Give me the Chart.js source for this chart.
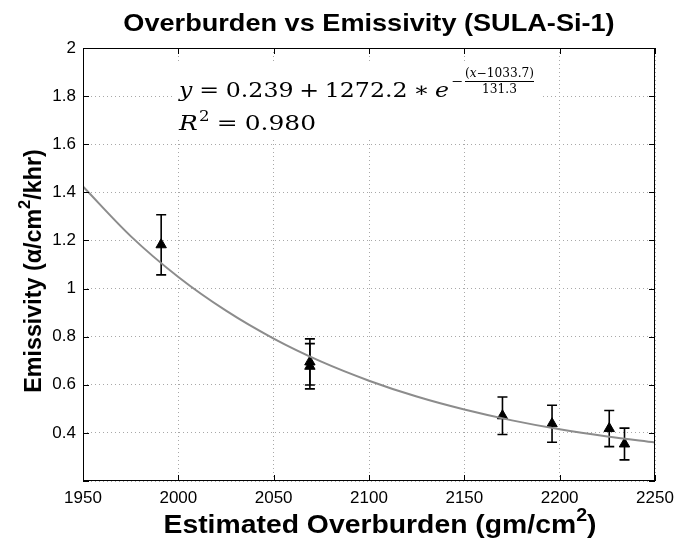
<!DOCTYPE html>
<html>
<head>
<meta charset="utf-8">
<script src="https://cdn.jsdelivr.net/npm/chart.js@4"></script>
<style>
  body { margin: 0; background: #fff; }
  #wrap { width: 682px; height: 550px; }
</style>
</head>
<body>
<div id="wrap"><canvas id="chart" width="682" height="550"></canvas></div>
<script>
// measured points (gm/cm^2 vs alpha/cm^2/khr)
var overburden = [1991, 2069, 2069, 2170, 2196, 2226, 2234];
var emissivity = [1.182, 0.695, 0.677, 0.471, 0.438, 0.418, 0.354];
var errBar = [0.125, 0.096, 0.094, 0.078, 0.077, 0.075, 0.066];

// fitted curve
var fitX = [1950, 1975, 2000, 2025, 2050, 2075, 2100, 2125, 2150, 2175, 2200, 2225, 2250];
var fitY = [1.424, 1.218, 1.048, 0.908, 0.792, 0.696, 0.617, 0.551, 0.497, 0.452, 0.415, 0.385, 0.360];

// axis ranges / ticks
var xTicks = [1950, 2000, 2050, 2100, 2150, 2200, 2250];
var yTicks = [0.2, 0.4, 0.6, 0.8, 1, 1.2, 1.4, 1.6, 1.8, 2];

var SANS = '"Liberation Sans", Arial, sans-serif';
var SERIF = '"DejaVu Serif", "Liberation Serif", serif';

function partsWidth(ctx, parts) {
  var w = 0;
  parts.forEach(function (p) { ctx.font = p.font; w += ctx.measureText(p.t).width + (p.gap || 0); });
  return w;
}

// draws text pieces one after another, stretched horizontally by sx
// returns the x where the text ends
function drawRich(ctx, parts, x, y, align, sx) {
  sx = sx || 1;
  var total = partsWidth(ctx, parts) * sx;
  var start = align == 'center' ? x - total / 2 : x;
  ctx.save();
  ctx.translate(start, y);
  ctx.scale(sx, 1);
  var cx = 0;
  parts.forEach(function (p) {
    ctx.font = p.font;
    ctx.fillText(p.t, cx, p.dy || 0);
    cx += ctx.measureText(p.t).width + (p.gap || 0);
  });
  ctx.restore();
  return start + total;
}

var errorBars = {
  id: 'errorBars',
  beforeDatasetsDraw: function (chart) {
    var ctx = chart.ctx, xs = chart.scales.x, ys = chart.scales.y;
    ctx.save();
    // white box behind the equation
    ctx.fillStyle = '#fff';
    ctx.fillRect(174, 62, 368, 75);
    ctx.strokeStyle = '#000';
    ctx.lineWidth = 1.6;
    for (var i = 0; i < overburden.length; i++) {
      var px = xs.getPixelForValue(overburden[i]);
      var top = ys.getPixelForValue(emissivity[i] + errBar[i]);
      var bot = ys.getPixelForValue(emissivity[i] - errBar[i]);
      ctx.beginPath();
      ctx.moveTo(px, top); ctx.lineTo(px, bot);
      ctx.moveTo(px - 5, top); ctx.lineTo(px + 5, top);
      ctx.moveTo(px - 5, bot); ctx.lineTo(px + 5, bot);
      ctx.stroke();
    }
    ctx.restore();
  }
};

var decor = {
  id: 'decor',
  afterDraw: function (chart) {
    var ctx = chart.ctx, a = chart.chartArea, xs = chart.scales.x, ys = chart.scales.y;
    ctx.save();
    // box + inward ticks
    ctx.strokeStyle = '#000';
    ctx.lineWidth = 1;
    ctx.strokeRect(a.left + 0.5, a.top + 0.5, a.right - a.left - 1, a.bottom - a.top - 1);
    ctx.beginPath();
    xTicks.forEach(function (v) {
      var px = Math.round(xs.getPixelForValue(v)) + 0.5;
      ctx.moveTo(px, a.bottom); ctx.lineTo(px, a.bottom - 6);
      ctx.moveTo(px, a.top); ctx.lineTo(px, a.top + 6);
    });
    yTicks.forEach(function (v) {
      var py = Math.round(ys.getPixelForValue(v)) + 0.5;
      ctx.moveTo(a.left, py); ctx.lineTo(a.left + 6, py);
      ctx.moveTo(a.right, py); ctx.lineTo(a.right - 6, py);
    });
    ctx.stroke();

    ctx.fillStyle = '#000';
    ctx.textBaseline = 'alphabetic';
    ctx.textAlign = 'left';
    // title
    drawRich(ctx, [{ t: 'Overburden vs Emissivity (SULA-Si-1)', font: 'bold 24px ' + SANS }], 369, 31, 'center', 1.13);

    // x axis title
    drawRich(ctx, [
      { t: 'Estimated Overburden (gm/cm', font: 'bold 26px ' + SANS },
      { t: '2', font: 'bold 18px ' + SANS, dy: -12 },
      { t: ')', font: 'bold 26px ' + SANS }
    ], 380, 533, 'center', 1.09);

    // y axis title
    ctx.save();
    ctx.translate(41, 271);
    ctx.rotate(-Math.PI / 2);
    drawRich(ctx, [
      { t: 'Emissivity (\u03b1/cm', font: 'bold 24px ' + SANS },
      { t: '2', font: 'bold 17px ' + SANS, dy: -11 },
      { t: '/khr)', font: 'bold 24px ' + SANS }
    ], 0, 0, 'center', 0.97);
    ctx.restore();

    // fit equation
    var big = '21px ' + SERIF, bigI = 'italic 21px ' + SERIF, sm = '12px ' + SERIF, smI = 'italic 12px ' + SERIF;
    var line1 = [
      { t: 'y', font: bigI, gap: 6 },
      { t: '=', font: big, gap: 6 },
      { t: '0.239', font: big, gap: 5 },
      { t: '+', font: big, gap: 5 },
      { t: '1272.2', font: big, gap: 5 },
      { t: '\u2217', font: big, gap: 5 },
      { t: 'e', font: bigI }
    ];
    var sx1 = 270 / partsWidth(ctx, line1);
    var ex = drawRich(ctx, line1, 179, 97, 'left', sx1);
    drawRich(ctx, [{ t: '\u2212', font: sm }], ex + 2, 85, 'left', 1.2);
    var numParts = [
      { t: '(', font: sm }, { t: 'x', font: smI }, { t: '\u22121033.7)', font: sm }
    ];
    var fx = ex + 16;
    var nsx = 69 / partsWidth(ctx, numParts);
    drawRich(ctx, numParts, fx, 77, 'left', nsx);
    ctx.fillRect(fx, 81, 69, 1);
    drawRich(ctx, [{ t: '131.3', font: sm }], fx + 34.5, 93, 'center', nsx);

    var line2 = [
      { t: 'R', font: bigI, gap: 1 },
      { t: '2', font: '14px ' + SERIF, dy: -9, gap: 6 },
      { t: '=', font: big, gap: 6 },
      { t: '0.980', font: big }
    ];
    drawRich(ctx, line2, 179, 130, 'left', 137 / partsWidth(ctx, line2));
    ctx.restore();
  }
};

var fitData = fitX.map(function (x, i) { return { x: x, y: fitY[i] }; });
var pointData = overburden.map(function (x, i) { return { x: x, y: emissivity[i] }; });

var gridOpts = { color: '#a8a8a8', lineWidth: 1, drawTicks: false };
var borderOpts = { display: false, dash: [1, 3] };

var chart = new Chart(document.getElementById('chart'), {
  type: 'scatter',
  data: {
    datasets: [{
      label: 'fit',
      data: fitData,
      showLine: true,
      borderColor: '#8c8c8c',
      borderWidth: 2,
      pointRadius: 0,
      tension: 0.4,
      cubicInterpolationMode: 'monotone'
    }, {
      label: 'measured',
      data: pointData,
      pointStyle: 'triangle',
      pointRadius: 6,
      backgroundColor: '#000',
      borderColor: '#000',
      borderWidth: 1
    }]
  },
  options: {
    responsive: false,
    animation: false,
    layout: { padding: { top: 48, right: 27, left: 0, bottom: 0 } },
    plugins: { legend: { display: false }, tooltip: { enabled: false } },
    scales: {
      x: {
        type: 'linear', min: 1950, max: 2250,
        afterBuildTicks: function (s) { s.ticks = xTicks.map(function (v) { return { value: v }; }); },
        afterFit: function (s) { s.height = 69; },
        grid: gridOpts,
        border: borderOpts,
        ticks: {
          color: '#000', font: { family: SANS, size: 17 }, padding: 7, maxRotation: 0,
          callback: function (v) { return String(v); }
        }
      },
      y: {
        type: 'linear', min: 0.2, max: 2,
        afterBuildTicks: function (s) { s.ticks = yTicks.map(function (v) { return { value: v }; }); },
        afterFit: function (s) { s.width = 83; },
        grid: gridOpts,
        border: borderOpts,
        ticks: {
          color: '#000', font: { family: SANS, size: 17 }, padding: 7,
          callback: function (v) { return v < 0.3 ? '' : String(Math.round(v * 10) / 10); }
        }
      }
    }
  },
  plugins: [errorBars, decor]
});
</script>
</body>
</html>
